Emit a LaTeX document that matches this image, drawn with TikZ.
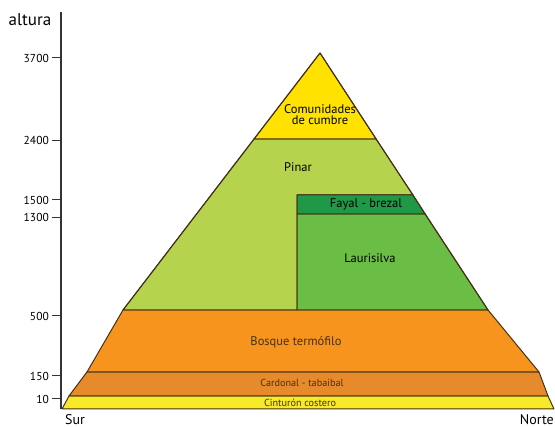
\documentclass[tikz,border=0pt]{standalone}
\usepackage{fontspec}
\setmainfont{PT Sans}

\definecolor{cumbre}{RGB}{255,226,0}
\definecolor{pinar}{RGB}{182,211,78}
\definecolor{fayal}{RGB}{31,152,72}
\definecolor{lauri}{RGB}{106,189,69}
\definecolor{termo}{RGB}{247,148,30}
\definecolor{cardon}{RGB}{230,138,44}
\definecolor{costa}{RGB}{247,234,40}
\definecolor{borde}{RGB}{70,48,24}

\begin{document}
\begin{tikzpicture}[x=1pt, y=-1pt,
	piso/.style = {draw=borde, line width=1pt, line join=round},
	etiqueta/.style = {font=\fontsize{12.5}{13}\selectfont},
	chica/.style = {font=\fontsize{10.2}{11}\selectfont, text=borde},
	marca/.style = {font=\fontsize{11.5}{12}\selectfont, anchor=east, inner sep=1pt},
	lado/.style = {font=\fontsize{14}{15}\selectfont, inner sep=0pt, anchor=base}]
	\useasboundingbox (0,0) rectangle (555,427);

	% pisos de vegetacion, de abajo arriba
	\fill[piso, fill=costa] (62,409) -- (554,409) -- (548,396) -- (69,396) -- cycle;
	\fill[piso, fill=cardon] (69,396) -- (548,396) -- (539,372) -- (87,372) -- cycle;
	\fill[piso, fill=termo] (87,372) -- (539,372) -- (488,310) -- (123,310) -- cycle;
	\fill[piso, fill=pinar] (123,310) -- (297,310) -- (297,195) -- (413,195) -- (376,139) -- (254,139) -- cycle;
	\fill[piso, fill=lauri] (297,310) -- (488,310) -- (425,214) -- (297,214) -- cycle;
	\fill[piso, fill=fayal] (297,214) -- (425,214) -- (413,195) -- (297,195) -- cycle;
	\fill[piso, fill=cumbre] (254,139) -- (376,139) -- (320,53) -- cycle;
	\draw[piso] (123,310) -- (320,53) -- (488,310);

	\node[etiqueta, align=center] (cumbre) at (320,115) {Comunidades\\[-2pt]de cumbre};
	\node[etiqueta] (pinar) at (298,167) {Pinar};
	\node[etiqueta] (fayal) at (366,204) {Fayal - brezal};
	\node[etiqueta] (lauri) at (370,258) {Laurisilva};
	\node[etiqueta, text=borde] (termo) at (296,342) {Bosque termófilo};
	\node[chica] (cardon) at (302,383) {Cardonal - tabaibal};
	\node[chica] (costa) at (300,402.5) {Cinturón costero};

	% eje de alturas
	\coordinate (base) at (61,409);
	\coordinate (tope) at (61,12);
	\draw[line width=1.1pt, black!80] (tope) -- (base);
	\foreach \h/\y in {3700/58, 2400/140.5, 1500/200, 1300/217.5, 500/316, 150/376, 10/399} {
		\draw[line width=1pt, black!80] (52,\y) -- (61,\y);
		\node[marca] (h\h) at (50,\y) {\h};
	}
	\node[font=\fontsize{17}{18}\selectfont] (altura) at (30,20) {altura};
	\node[lado] (sur) at (75,424.5) {Sur};
	\node[lado, anchor=base east] (norte) at (554,424.5) {Norte};
\end{tikzpicture}
\end{document}
